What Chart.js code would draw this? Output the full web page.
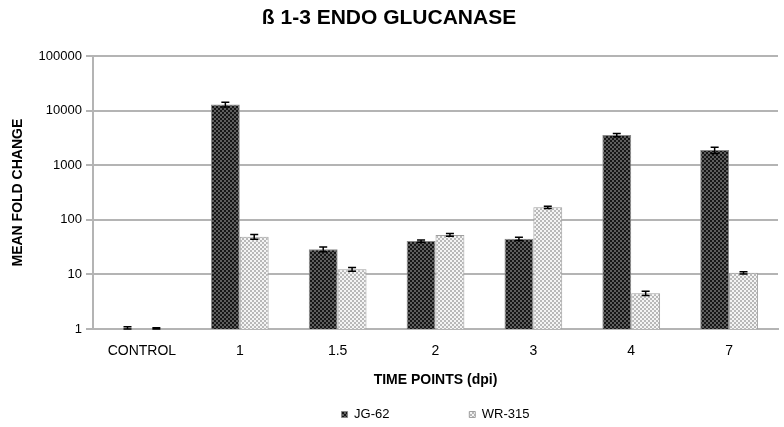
<!DOCTYPE html>
<html>
<head>
<meta charset="utf-8">
<script src="https://cdn.jsdelivr.net/npm/chart.js@4"></script>
<style>
  body { margin: 0; background: #fff; }
</style>
</head>
<body>
<canvas id="grafico" width="784" height="427"></canvas>
<script>
// dados
var categorias = ['CONTROL', '1', '1.5', '2', '3', '4', '7'];
var jg62 = [1, 13000, 29, 41, 45, 3600, 1900];
var wr315 = [1, 49, 12.4, 53, 170, 4.5, 10.7];
var erroJg62 = [0.1, 1300, 3, 2, 3, 250, 250];
var erroWr315 = [0.05, 5, 1, 3, 8, 0.4, 0.5];
var ticksY = [1, 10, 100, 1000, 10000, 100000];

function padrao(fundo, ponto) {
    var c = document.createElement('canvas');
    c.width = 4;
    c.height = 4;
    var ctx = c.getContext('2d');
    ctx.fillStyle = fundo;
    ctx.fillRect(0, 0, 4, 4);
    ctx.fillStyle = ponto;
    ctx.fillRect(0, 0, 2, 2);
    ctx.fillRect(2, 2, 2, 2);
    return ctx.createPattern(c, 'repeat');
}

var ctxPrincipal = document.getElementById('grafico').getContext('2d');
var padraoEscuro = padrao('#161616', '#5e5e5e');
var padraoClaro = padrao('#f4f4f4', '#b8b8b8');

// barras de erro desenhadas pela escala
var barrasErro = {
    id: 'barrasErro',
    afterDatasetsDraw: function (chart) {
        var ctx = chart.ctx;
        var y = chart.scales.y;
        chart.data.datasets.forEach(function (ds, i) {
            var meta = chart.getDatasetMeta(i);
            meta.data.forEach(function (bar, j) {
                var v = ds.data[j];
                var e = ds.erros[j];
                var yTopo = y.getPixelForValue(v + e);
                var yBase = y.getPixelForValue(Math.max(v - e, 1));
                ctx.save();
                ctx.strokeStyle = '#000';
                ctx.lineWidth = 1.5;
                ctx.beginPath();
                ctx.moveTo(bar.x, yTopo);
                ctx.lineTo(bar.x, yBase);
                ctx.moveTo(bar.x - 4, yTopo);
                ctx.lineTo(bar.x + 4, yTopo);
                ctx.moveTo(bar.x - 4, yBase);
                ctx.lineTo(bar.x + 4, yBase);
                ctx.stroke();
                ctx.restore();
            });
        });
    }
};

new Chart(ctxPrincipal, {
    type: 'bar',
    data: {
        labels: categorias,
        datasets: [{
            label: 'JG-62',
            data: jg62,
            erros: erroJg62,
            backgroundColor: padraoEscuro,
            borderColor: '#8a8a8a',
            borderWidth: 1,
            categoryPercentage: 0.59,
            barPercentage: 1.0
        },
        {
            label: 'WR-315',
            data: wr315,
            erros: erroWr315,
            backgroundColor: padraoClaro,
            borderColor: '#a0a0a0',
            borderWidth: 1,
            categoryPercentage: 0.59,
            barPercentage: 1.0
        }]
    },
    options: {
        responsive: false,
        animation: false,
        layout: {
            padding: { left: 0, right: 6, top: 0, bottom: -4 }
        },
        plugins: {
            title: {
                display: true,
                text: 'ß 1-3 ENDO GLUCANASE',
                color: '#000',
                font: { family: 'Arial, "Liberation Sans"', size: 21, weight: 'bold' },
                padding: { top: 6, bottom: 25 }
            },
            legend: {
                position: 'bottom',
                fullSize: false,
                labels: {
                    color: '#000',
                    font: { family: 'Arial, "Liberation Sans"', size: 13 },
                    boxWidth: 6,
                    boxHeight: 6,
                    padding: 4,
                    generateLabels: function (chart) {
                        var itens = Chart.defaults.plugins.legend.labels.generateLabels(chart);
                        itens[0].text = itens[0].text + '\u00a0'.repeat(21);
                        return itens;
                    }
                }
            },
            tooltip: { enabled: false }
        },
        scales: {
            x: {
                afterFit: function (scale) { scale.height = 75; },
                grid: { display: false },
                border: { display: true, color: '#b4b4b4', width: 2 },
                ticks: {
                    color: '#000',
                    padding: 6,
                    font: { family: 'Arial, "Liberation Sans"', size: 14 }
                },
                title: {
                    display: true,
                    text: 'TIME POINTS (dpi)',
                    color: '#000',
                    font: { family: 'Arial, "Liberation Sans"', size: 14, weight: 'bold' },
                    padding: { top: 0, bottom: 15 }
                }
            },
            y: {
                type: 'logarithmic',
                min: 1,
                max: 100000,
                afterFit: function (scale) { scale.width = 93; },
                afterBuildTicks: function (scale) {
                    scale.ticks = ticksY.map(function (v) { return { value: v }; });
                },
                grid: { color: '#b4b4b4', lineWidth: 2, tickLength: 7 },
                border: { display: true, color: '#b4b4b4', width: 2 },
                ticks: {
                    color: '#000',
                    padding: 4,
                    font: { family: 'Arial, "Liberation Sans"', size: 13 },
                    callback: function (v) { return String(v); }
                },
                title: {
                    display: true,
                    text: 'MEAN FOLD CHANGE',
                    color: '#000',
                    font: { family: 'Arial, "Liberation Sans"', size: 14, weight: 'bold' },
                    padding: { top: 10, bottom: 0 }
                }
            }
        }
    },
    plugins: [barrasErro]
});
</script>
</body>
</html>
